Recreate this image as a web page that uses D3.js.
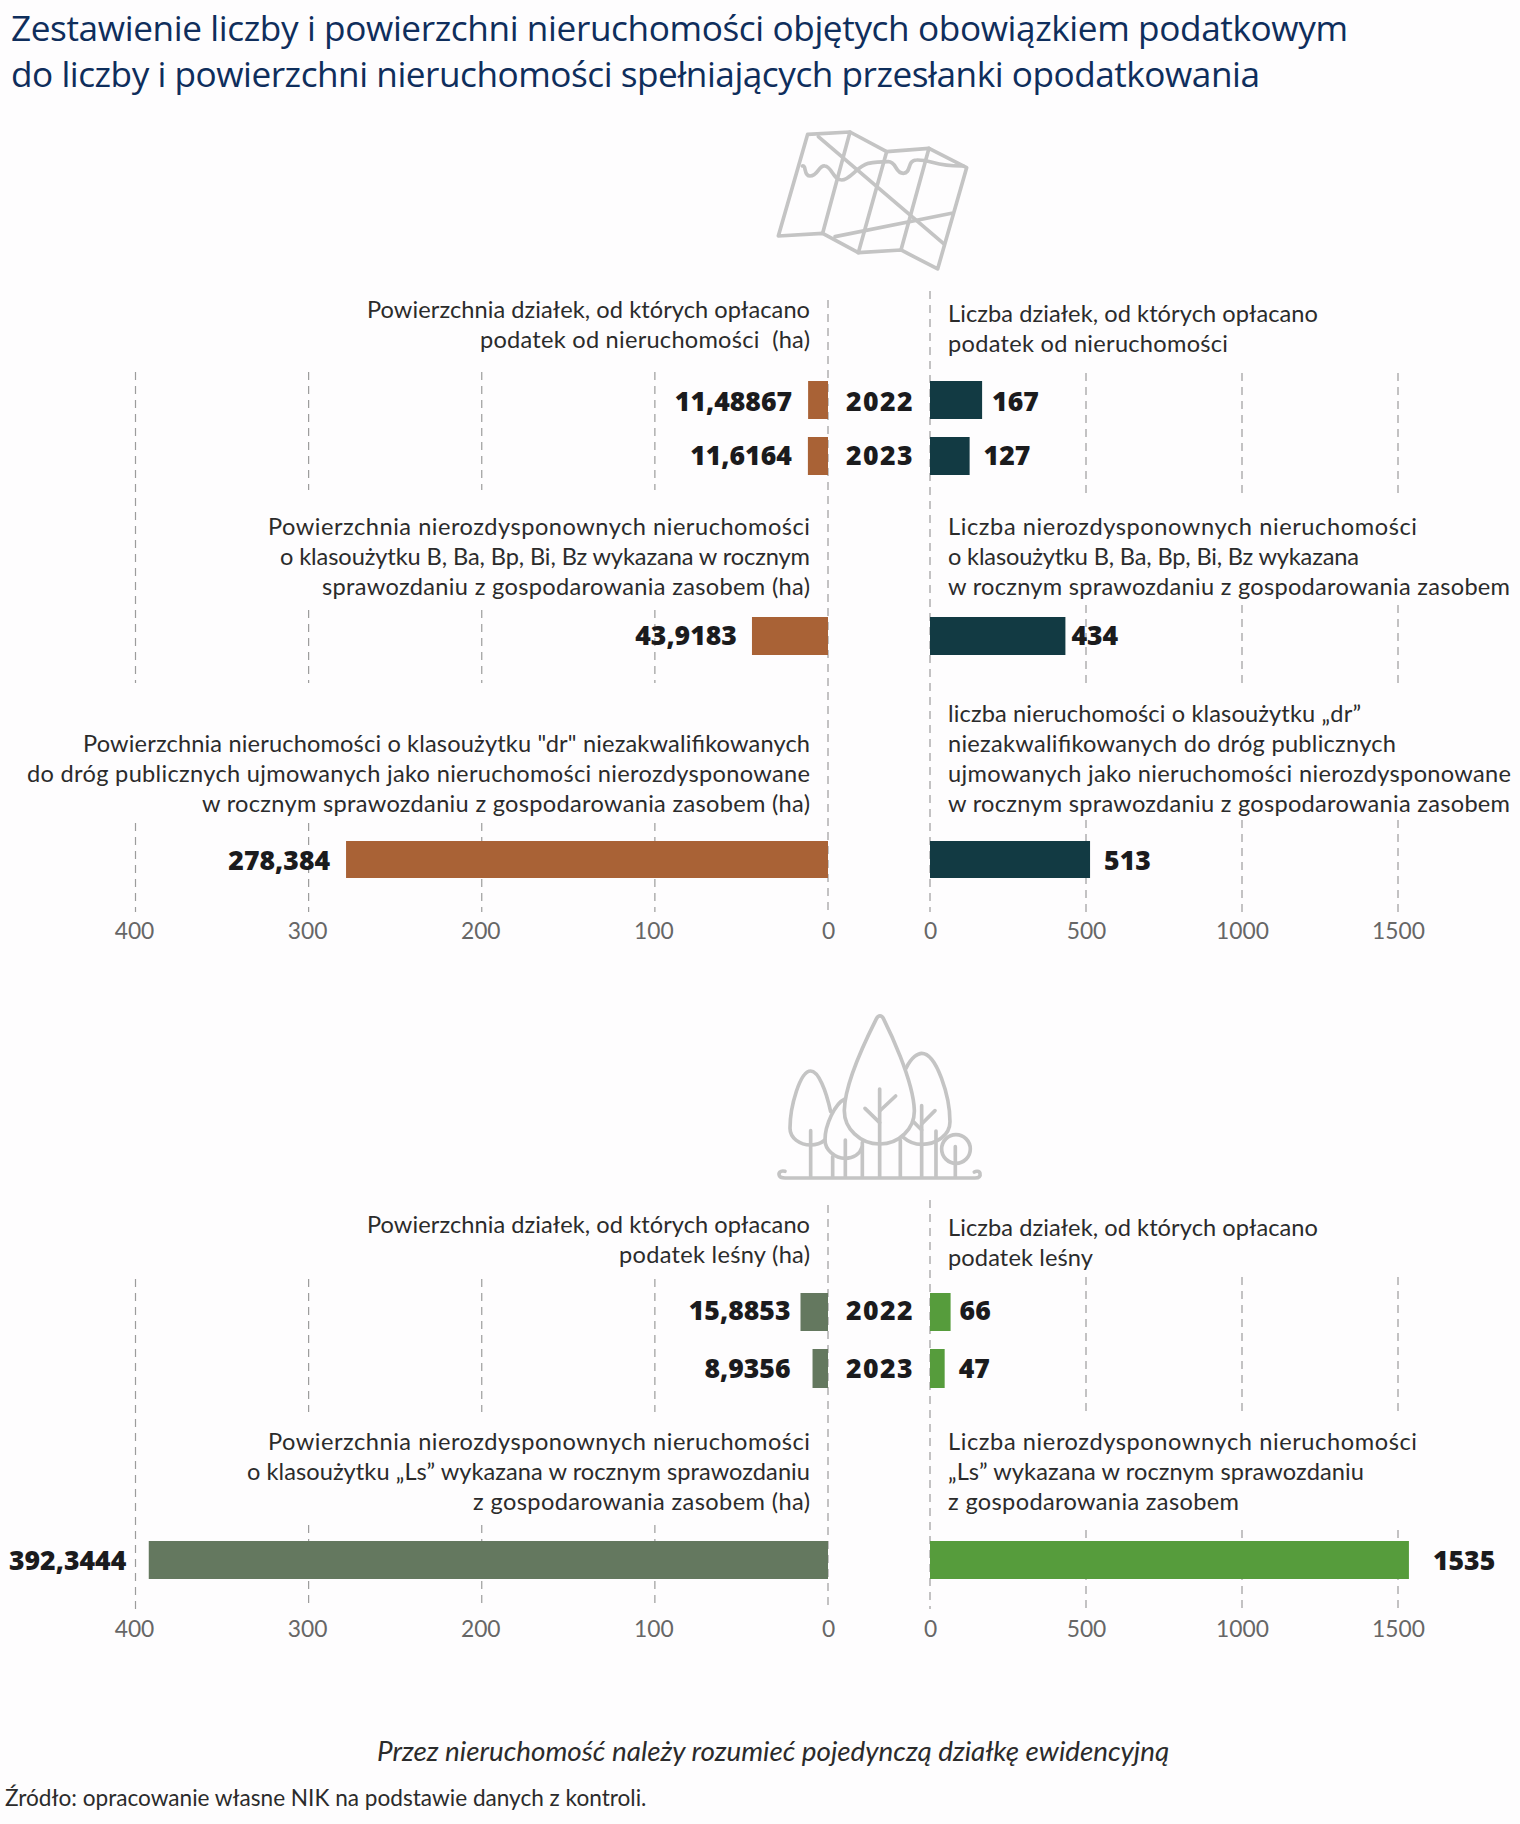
<!DOCTYPE html>
<html lang="pl">
<head>
<meta charset="utf-8">
<title>Nieruchomości objęte obowiązkiem podatkowym</title>
<script src="https://cdn.jsdelivr.net/npm/d3@7"></script>
<style>
  html, body { margin: 0; padding: 0; background: #fefdfe; }
  svg { display: block; }
  .title { font: 400 35.2px "Open Sans", sans-serif; fill: #0f2e5c; }
  .cap { font: 400 23.6px "Lato", sans-serif; fill: #2b2b2b; white-space: pre; }
  .val { font: 800 26.6px "Open Sans", sans-serif; fill: #1b1b1d; }
  .yr { letter-spacing: 1.4px; }
  .tick text { font: 400 22.8px "Lato", sans-serif; fill: #666; }
  .note { font: italic 400 27.8px "Lato", sans-serif; fill: #2b2b2b; }
  .source { font: 400 22.6px "Lato", sans-serif; fill: #2b2b2b; }
  .grid { stroke: #9c9c9c; stroke-width: 1.2; stroke-dasharray: 8 6; fill: none; }
  .icon path, .icon circle { fill: none; stroke: #c4c4c4; stroke-width: 11; stroke-linecap: round; stroke-linejoin: round; }
</style>
</head>
<body>
<div id="chart"></div>
<script>
// Values read per row: area in hectares (left) and number of plots (right).
const years = ["2022", "2023"];
const taxAreaProperty = [11.48867, 11.6164];
const taxCountProperty = [167, 127];
const taxLabelsProperty = ["11,48867", "11,6164"];
const unassignedArea = 43.9183, unassignedAreaLabel = "43,9183", unassignedCount = 434;
const roadArea = 278.384, roadAreaLabel = "278,384", roadCount = 513;
const taxAreaForest = [15.8853, 8.9356];
const taxCountForest = [66, 47];
const taxLabelsForest = ["15,8853", "8,9356"];
const forestArea = 392.3444, forestAreaLabel = "392,3444", forestCount = 1535;
const areaTicks = [400, 300, 200, 100, 0];
const countTicks = [0, 500, 1000, 1500];

const titleLines = [
  "Zestawienie liczby i powierzchni nieruchomości objętych obowiązkiem podatkowym",
  "do liczby i powierzchni nieruchomości spełniających przesłanki opodatkowania"
];
const capPropArea1 = ["Powierzchnia działek, od których opłacano", "podatek od nieruchomości  (ha)"];
const capPropCount1 = ["Liczba działek, od których opłacano", "podatek od nieruchomości"];
const capPropArea2 = ["Powierzchnia nierozdysponownych nieruchomości", "o klasoużytku B, Ba, Bp, Bi, Bz wykazana w rocznym", "sprawozdaniu z gospodarowania zasobem (ha)"];
const capPropCount2 = ["Liczba nierozdysponownych nieruchomości", "o klasoużytku B, Ba, Bp, Bi, Bz wykazana", "w rocznym sprawozdaniu z gospodarowania zasobem"];
const capPropArea3 = ["Powierzchnia nieruchomości o klasoużytku \"dr\" niezakwalifikowanych", "do dróg publicznych ujmowanych jako nieruchomości nierozdysponowane", "w rocznym sprawozdaniu z gospodarowania zasobem (ha)"];
const capPropCount3 = ["liczba nieruchomości o klasoużytku „dr”", "niezakwalifikowanych do dróg publicznych", "ujmowanych jako nieruchomości nierozdysponowane", "w rocznym sprawozdaniu z gospodarowania zasobem"];
const capForArea1 = ["Powierzchnia działek, od których opłacano", "podatek leśny (ha)"];
const capForCount1 = ["Liczba działek, od których opłacano", "podatek leśny"];
const capForArea2 = ["Powierzchnia nierozdysponownych nieruchomości", "o klasoużytku „Ls” wykazana w rocznym sprawozdaniu", "z gospodarowania zasobem (ha)"];
const capForCount2 = ["Liczba nierozdysponownych nieruchomości", "„Ls” wykazana w rocznym sprawozdaniu", "z gospodarowania zasobem"];

const colors = { propArea: "#a96236", propCount: "#123a43", forArea: "#64785f", forCount: "#569c3c" };

const width = 1520, height = 1824;
const svg = d3.select("#chart").append("svg").attr("width", width).attr("height", height);

const xArea = d3.scaleLinear().domain([0, 400]).range([828, 135.5]);
const xCount = d3.scaleLinear().domain([0, 1500]).range([930, 1398]);
const gridLayer = svg.append("g");
const barLayer = svg.append("g");
const textLayer = svg.append("g");

// Title, set to the measure of its two lines
const titleMeasure = [1337, 1249];
textLayer.append("g").selectAll("text").data(titleLines).join("text")
  .attr("class", "title").attr("x", 11).attr("y", (d, i) => i ? 87 : 41)
  .attr("textLength", (d, i) => titleMeasure[i]).attr("lengthAdjust", "spacing")
  .text(d => d);

// Caption block: each line is fitted to its own measure in pixels.
function caption(lines, anchor, y0, measure) {
  textLayer.append("g").selectAll("text").data(lines).join("text")
    .attr("class", "cap")
    .attr("x", anchor === "end" ? 810 : 948)
    .attr("y", (d, i) => y0 + i * 30)
    .attr("text-anchor", anchor)
    .attr("textLength", (d, i) => measure[i])
    .attr("lengthAdjust", "spacing")
    .text(d => d);
}
// Dashed guide lines: one entry per tick, each listing its visible stretches.
function guides(scale, tick, spans) {
  gridLayer.append("g").selectAll("line").data(spans).join("line")
    .attr("class", "grid")
    .attr("x1", scale(tick)).attr("x2", scale(tick))
    .attr("y1", d => d[0]).attr("y2", d => d[1]);
}
// One mirrored bar with a bold value label beside it.
function bar(scale, value, label, y0, y1, fill, gap, baseline) {
  const x0 = scale(0), x1 = scale(value);
  barLayer.append("rect")
    .attr("x", Math.min(x0, x1)).attr("width", Math.abs(x1 - x0))
    .attr("y", y0).attr("height", y1 - y0).attr("fill", fill);
  const toLeft = x1 < x0;
  textLayer.append("text").attr("class", "val")
    .attr("x", toLeft ? x1 - gap : x1 + gap)
    .attr("y", baseline)
    .attr("text-anchor", toLeft ? "end" : "start")
    .text(label);
}
function year(label, baseline) {
  textLayer.append("text").attr("class", "val yr")
    .attr("x", 880).attr("y", baseline).attr("text-anchor", "middle").text(label);
}
function axes(y) {
  const plain = d3.format("d");
  const left = d3.axisBottom(xArea).tickValues(areaTicks).tickFormat(plain).tickSize(0).tickPadding(0);
  const right = d3.axisBottom(xCount).tickValues(countTicks).tickFormat(plain).tickSize(0).tickPadding(0);
  [left, right].forEach((ax, side) => {
    const g = textLayer.append("g").attr("transform", `translate(0,${y})`).call(ax);
    g.select(".domain").remove();
    g.selectAll("text").attr("dy", 0).attr("y", 0).attr("dx", d => (side || d === 0) ? 0 : -1.5);
  });
}

// Section one: land properties
[300, 200, 100].forEach(t => guides(xArea, t, [[372, 490], [610, 683], [823, 912]]));
guides(xArea, 400, [[372, 683], [823, 912]]);
guides(xArea, 0, [[300, 912]]);
[500, 1000, 1500].forEach(t => guides(xCount, t, [[373, 495], [605, 683], [820, 912]]));
guides(xCount, 0, [[291, 912]]);

caption(capPropArea1, "end", 318, [443, 330]);
caption(capPropCount1, "start", 322, [370, 280]);
caption(capPropArea2, "end", 535, [542, 530, 488]);
caption(capPropCount2, "start", 535, [469, 411, 562]);
caption(capPropArea3, "end", 752, [727, 783, 608]);
caption(capPropCount3, "start", 722, [413, 448, 563, 562]);

bar(xArea, taxAreaProperty[0], taxLabelsProperty[0], 381, 419, colors.propArea, 16, 411);
bar(xArea, taxAreaProperty[1], taxLabelsProperty[1], 437, 475, colors.propArea, 16, 465);
bar(xCount, taxCountProperty[0], String(taxCountProperty[0]), 381, 419, colors.propCount, 10, 411);
bar(xCount, taxCountProperty[1], String(taxCountProperty[1]), 437, 475, colors.propCount, 14, 465);
year(years[0], 411);
year(years[1], 465);
bar(xArea, unassignedArea, unassignedAreaLabel, 617, 655, colors.propArea, 15, 645);
bar(xCount, unassignedCount, String(unassignedCount), 617, 655, colors.propCount, 6, 645);
bar(xArea, roadArea, roadAreaLabel, 841, 878, colors.propArea, 16, 870);
bar(xCount, roadCount, String(roadCount), 841, 878, colors.propCount, 14, 870);
axes(939);

// Section two: forest land
[300, 200, 100].forEach(t => guides(xArea, t, [[1279, 1412], [1525, 1609]]));
guides(xArea, 400, [[1279, 1609]]);
guides(xArea, 0, [[1205, 1609]]);
[500, 1000, 1500].forEach(t => guides(xCount, t, [[1277, 1417], [1530, 1609]]));
guides(xCount, 0, [[1200, 1609]]);

caption(capForArea1, "end", 1233, [443, 191]);
caption(capForCount1, "start", 1236, [370, 145]);
caption(capForArea2, "end", 1450, [542, 563, 337]);
caption(capForCount2, "start", 1450, [469, 416, 291]);

bar(xArea, taxAreaForest[0], taxLabelsForest[0], 1293, 1331, colors.forArea, 10, 1320);
bar(xArea, taxAreaForest[1], taxLabelsForest[1], 1349, 1388, colors.forArea, 22, 1378);
bar(xCount, taxCountForest[0], String(taxCountForest[0]), 1293, 1331, colors.forCount, 9, 1320);
bar(xCount, taxCountForest[1], String(taxCountForest[1]), 1349, 1388, colors.forCount, 14, 1378);
year(years[0], 1320);
year(years[1], 1378);
bar(xArea, forestArea, forestAreaLabel, 1541, 1579, colors.forArea, 22.5, 1570);
bar(xCount, forestCount, String(forestCount), 1541, 1579, colors.forCount, 24, 1570);
axes(1637);

// Folded map pictogram
const map = svg.append("g").attr("class", "icon").attr("transform", "translate(740,110) scale(0.3333)");
[
  "M203,73 L330,66 L440,125 L567,115 L680,173 L593,477 L483,420 L355,428 L248,370 L115,378 Z",
  "M330,66 L248,370", "M440,125 L355,428", "M567,115 L483,420",
  "M235,80 L610,400", "M285,380 L635,310",
  "M187,168 C200,165 190,198 210,198 C235,198 235,165 255,168 C275,170 280,210 305,210 C330,210 350,170 385,160 C410,155 430,155 445,155 C470,155 465,190 490,190 C515,190 500,150 530,150 C570,148 590,170 670,168"
].forEach(d => map.append("path").attr("d", d));

// Tree group pictogram
const trees = svg.append("g").attr("class", "icon").attr("transform", "translate(740,1000) scale(0.3333)");
[
  "M135,514 C120,510 115,520 118,527 C120,533 125,534 135,534 L705,534 C718,534 722,528 720,520 C718,512 708,513 703,516",
  "M410,55 C395,85 315,240 313,330 C312,385 360,432 419,432 C478,432 525,385 523,330 C520,240 445,85 430,55 C425,45 415,45 410,55 Z",
  "M419,267 L419,530", "M375,325 L419,368", "M467,288 L419,333",
  "M272,335 C258,270 235,213 212,213 C180,213 150,320 150,385 C150,415 180,435 212,435 C230,435 245,428 255,420",
  "M212,392 L212,530",
  "M315,297 C285,310 255,375 255,420 C255,450 285,475 316,475 C340,475 360,462 367,440",
  "M316,420 L316,530", "M278,470 L278,530", "M367,428 L367,530",
  "M498,205 C515,170 535,160 545,160 C590,160 630,290 630,365 C630,405 590,433 545,433 C525,433 505,425 490,412",
  "M545,317 L545,530", "M585,332 L545,372", "M520,365 L545,390",
  "M481,420 L481,530", "M588,393 L588,530", "M646,440 L646,530"
].forEach(d => trees.append("path").attr("d", d));
trees.append("circle").attr("cx", 648).attr("cy", 447).attr("r", 43);

// Footnotes
textLayer.append("text").attr("class", "note").attr("x", 377).attr("y", 1761)
  .text("Przez nieruchomość należy rozumieć pojedynczą działkę ewidencyjną");
textLayer.append("text").attr("class", "source").attr("x", 5).attr("y", 1806)
  .text("Źródło: opracowanie własne NIK na podstawie danych z kontroli.");
</script>
</body>
</html>
